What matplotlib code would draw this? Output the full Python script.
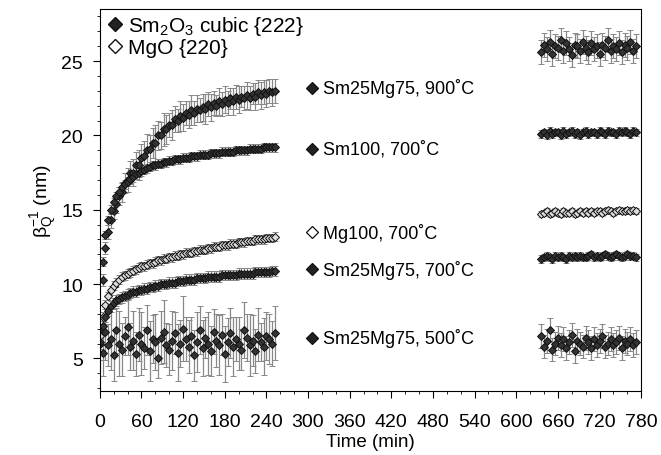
import matplotlib.pyplot as plt
import matplotlib.ticker as ticker
import numpy as np
from matplotlib import font_manager
from matplotlib.lines import Line2D

names = {f.name for f in font_manager.fontManager.ttflist}
narrow = 'Liberation Sans Narrow' if 'Liberation Sans Narrow' in names else 'Liberation Sans'

plt.rcParams['font.family'] = ['Liberation Sans', 'DejaVu Sans']
plt.rcParams['mathtext.fontset'] = 'custom'
plt.rcParams['mathtext.rm'] = 'Liberation Sans'
plt.rcParams['mathtext.it'] = 'Liberation Sans:italic'

# sampling times (min)
t_left = np.arange(0, 253, 4)
t_right = np.arange(636, 773, 4)

# Sm25Mg75, 900 C (Sm2O3 cubic {222})
sm25_900_left = [7.0, 10.3, 12.4, 13.5, 14.3, 14.9, 15.4, 15.9, 16.2, 16.8, 17.0, 17.5, 17.5, 18.0, 18.0, 18.5,
                 18.6, 19.0, 19.1, 19.5, 19.5, 20.0, 20.0, 20.4, 20.4, 20.7, 20.7, 21.1, 21.0, 21.3, 21.2, 21.5,
                 21.4, 21.7, 21.5, 21.8, 21.7, 21.9, 21.8, 22.1, 21.9, 22.2, 22.0, 22.3, 22.1, 22.4, 22.2, 22.5,
                 22.3, 22.6, 22.4, 22.6, 22.5, 22.7, 22.5, 22.8, 22.6, 22.9, 22.7, 22.9, 22.8, 23.0, 22.9, 23.0]
sm25_900_left_err = [0.3, 0.4, 0.4, 0.5, 0.5, 0.5, 0.6, 0.6, 0.7, 0.7, 0.8, 0.8, 0.9, 0.9, 1.0, 0.9,
                     1.0, 1.1, 0.9, 1.0, 1.2, 1.0, 0.9, 1.1, 1.0, 0.8, 1.0, 0.9, 0.8, 1.0, 0.9, 0.8,
                     0.9, 1.0, 0.8, 0.9, 0.8, 0.9, 1.0, 0.8, 0.9, 0.8, 0.7, 0.9, 0.8, 0.9, 0.8, 0.7,
                     0.9, 0.8, 0.9, 0.7, 0.8, 0.9, 0.8, 0.7, 0.9, 0.8, 0.9, 0.8, 0.9, 0.8, 0.9, 0.8]
sm25_900_right = [25.6, 26.1, 25.8, 26.3, 25.5, 26.0, 25.9, 26.4, 25.7, 26.2, 25.8, 25.4, 26.1, 26.0, 25.7, 26.3, 25.9, 25.6,
                  26.2, 25.8, 26.0, 25.5, 26.1, 25.9, 26.4, 25.7, 26.0, 25.8, 26.2, 25.6, 26.1, 25.9, 26.3, 25.7, 26.0]
sm25_900_right_err = 0.8

# Sm100, 700 C
sm100_left = [7.0, 11.5, 13.3, 14.3, 15.0, 15.5, 15.9, 16.2, 16.5, 16.7, 16.9, 17.1, 17.2, 17.4, 17.5, 17.6,
              17.7, 17.8, 17.9, 18.0, 18.0, 18.1, 18.1, 18.2, 18.2, 18.3, 18.3, 18.4, 18.4, 18.4, 18.5, 18.5,
              18.5, 18.6, 18.6, 18.6, 18.7, 18.7, 18.7, 18.7, 18.8, 18.8, 18.8, 18.8, 18.9, 18.9, 18.9, 18.9,
              18.9, 19.0, 19.0, 19.0, 19.0, 19.0, 19.1, 19.1, 19.1, 19.1, 19.1, 19.2, 19.2, 19.2, 19.2, 19.2]
sm100_left_err = 0.3
sm100_right = [20.1, 20.2, 20.0, 20.3, 20.1, 20.2, 20.2, 20.0, 20.3, 20.1, 20.2, 20.3, 20.1, 20.2, 20.0, 20.2, 20.3, 20.1,
               20.2, 20.2, 20.1, 20.3, 20.2, 20.1, 20.3, 20.2, 20.2, 20.1, 20.3, 20.2, 20.3, 20.2, 20.1, 20.3, 20.2]
sm100_right_err = 0.25

# Mg100, 700 C (MgO {220})
mg100_left = [6.5, 7.8, 8.6, 9.2, 9.6, 9.9, 10.1, 10.3, 10.5, 10.6, 10.7, 10.8, 10.9, 11.0, 11.1, 11.2,
              11.2, 11.3, 11.4, 11.4, 11.5, 11.6, 11.6, 11.7, 11.7, 11.8, 11.8, 11.9, 11.9, 12.0, 12.0, 12.1,
              12.1, 12.1, 12.2, 12.2, 12.3, 12.3, 12.3, 12.4, 12.4, 12.5, 12.5, 12.5, 12.6, 12.6, 12.6, 12.7,
              12.7, 12.7, 12.8, 12.8, 12.8, 12.9, 12.9, 12.9, 13.0, 13.0, 13.0, 13.0, 13.1, 13.1, 13.1, 13.2]
mg100_left_err = 0.3
mg100_right = [14.7, 14.8, 14.9, 14.7, 14.8, 14.9, 14.8, 14.7, 14.9, 14.8, 14.8, 14.9, 14.7, 14.8, 14.9, 14.8, 14.9, 14.8,
               14.9, 14.8, 14.9, 14.9, 14.8, 14.9, 15.0, 14.9, 14.8, 14.9, 15.0, 14.9, 14.9, 15.0, 14.9, 15.0, 14.9]
mg100_right_err = 0.2

# Sm25Mg75, 700 C
sm25_700_left = [6.0, 7.2, 7.8, 8.2, 8.5, 8.7, 8.9, 9.0, 9.1, 9.2, 9.3, 9.4, 9.5, 9.5, 9.6, 9.6,
                 9.7, 9.7, 9.8, 9.8, 9.9, 9.9, 10.0, 10.0, 10.0, 10.1, 10.1, 10.1, 10.2, 10.2, 10.2, 10.3,
                 10.3, 10.3, 10.3, 10.4, 10.4, 10.4, 10.4, 10.5, 10.5, 10.5, 10.5, 10.5, 10.6, 10.6, 10.6, 10.6,
                 10.6, 10.6, 10.7, 10.7, 10.7, 10.7, 10.7, 10.7, 10.8, 10.8, 10.8, 10.8, 10.8, 10.8, 10.9, 10.9]
sm25_700_left_err = 0.35
sm25_700_right = [11.7, 11.8, 11.9, 11.8, 11.7, 11.9, 11.8, 11.9, 11.8, 11.7, 11.9, 11.8, 11.9, 11.8, 11.9, 11.8, 11.8, 11.9,
                  12.0, 11.8, 11.9, 11.8, 11.9, 12.0, 11.9, 11.8, 11.9, 12.0, 11.9, 11.8, 11.9, 12.0, 11.9, 11.9, 11.8]
sm25_700_right_err = 0.25

# Sm25Mg75, 500 C
sm25_500_left = [6.1, 5.4, 6.8, 5.9, 6.3, 5.2, 6.9, 6.0, 5.6, 6.5, 7.1, 5.8, 6.2, 5.3, 6.6, 6.0,
                 5.7, 6.9, 5.5, 6.3, 6.1, 5.0, 6.4, 6.8, 5.9, 5.6, 6.2, 6.7, 5.4, 6.0, 7.0, 6.3,
                 5.8, 6.5, 5.2, 6.1, 6.9, 5.7, 6.4, 6.0, 5.5, 6.8, 6.2, 5.9, 6.6, 5.3, 6.1, 6.7,
                 5.8, 6.3, 6.0, 5.6, 6.9, 6.4, 5.9, 6.2, 5.5, 6.6, 6.1, 5.8, 6.5, 6.3, 6.0, 6.7]
sm25_500_left_err = [1.2, 1.6, 1.9, 1.4, 2.1, 1.7, 1.5, 2.2, 1.8, 1.3, 1.9, 1.6, 2.0, 1.5, 1.8, 2.1,
                     1.4, 1.7, 2.0, 1.6, 1.9, 1.3, 1.8, 2.1, 1.5, 1.7, 2.0, 1.4, 1.9, 1.6, 2.2, 1.5,
                     1.8, 1.3, 1.7, 2.0, 1.6, 1.9, 1.4, 2.1, 1.7, 1.5, 1.8, 2.0, 1.4, 1.9, 1.6, 1.7,
                     2.0, 1.5, 1.8, 1.4, 1.9, 1.6, 2.1, 1.7, 1.5, 1.8, 1.3, 1.9, 1.6, 1.7, 1.5, 1.8]
sm25_500_right = [6.5, 5.8, 6.2, 6.9, 5.6, 6.0, 6.4, 5.9, 6.3, 5.7, 6.1, 6.6, 5.5, 6.2, 6.0, 5.8, 6.4, 6.1,
                  5.7, 6.3, 5.9, 6.2, 6.5, 5.8, 6.0, 6.3, 5.9, 6.1, 6.4, 5.7, 6.2, 6.0, 6.3, 5.9, 6.1]
sm25_500_right_err = 0.8

series = [
    (sm25_900_left, sm25_900_left_err, sm25_900_right, sm25_900_right_err, True),
    (sm100_left, sm100_left_err, sm100_right, sm100_right_err, True),
    (mg100_left, mg100_left_err, mg100_right, mg100_right_err, False),
    (sm25_700_left, sm25_700_left_err, sm25_700_right, sm25_700_right_err, True),
    (sm25_500_left, sm25_500_left_err, sm25_500_right, sm25_500_right_err, True),
]

labels = ['Sm25Mg75, 900˚C', 'Sm100, 700˚C', 'Mg100, 700˚C', 'Sm25Mg75, 700˚C', 'Sm25Mg75, 500˚C']
label_y = [23.2, 19.1, 13.5, 11.0, 6.4]
label_filled = [True, True, False, True, True]

fig = plt.figure(figsize=(6.61, 4.56), dpi=100)
ax = fig.add_axes([0.151, 0.140, 0.819, 0.838])

for left, lerr, right, rerr, filled in series:
    for t, v, e in ((t_left, left, lerr), (t_right, right, rerr)):
        ax.errorbar(t, v, yerr=e, fmt='D', ms=3.8,
                    mfc='#333333' if filled else '#dddddd', mec='#111111', mew=0.7,
                    ecolor='#888888', elinewidth=0.9, capsize=2.5, capthick=0.8, zorder=2)

for lab, y, filled in zip(labels, label_y, label_filled):
    ax.plot(306, y, 'D', ms=6.5, mfc='#222222' if filled else 'white', mec='#111111', mew=0.9)
    ax.text(322, y, lab, fontsize=13, va='center', ha='left')

handles = [
    Line2D([], [], ls='none', marker='D', ms=7, mfc='#222222', mec='#111111'),
    Line2D([], [], ls='none', marker='D', ms=7, mfc='white', mec='#111111'),
]
ax.legend(handles, ['Sm$_\\mathregular{2}$O$_\\mathregular{3}$ cubic {222}', 'MgO {220}'],
          loc='upper left', bbox_to_anchor=(-0.015, 1.02), frameon=False, fontsize=15,
          handletextpad=0.15, borderaxespad=0.2, labelspacing=0.05, handlelength=1.0)

ax.set_xlim(0, 780)
ax.set_ylim(2.8, 28.5)
ax.xaxis.set_major_locator(ticker.MultipleLocator(60))
ax.xaxis.set_minor_locator(ticker.MultipleLocator(20))
ax.yaxis.set_major_locator(ticker.MultipleLocator(5))
ax.yaxis.set_minor_locator(ticker.MultipleLocator(1))
ax.tick_params(which='major', direction='out', length=5)
ax.tick_params(which='minor', direction='out', length=2.5)
ax.tick_params(axis='x', which='major', pad=11)
ax.tick_params(axis='y', which='major', pad=7)
for lab in ax.get_xticklabels() + ax.get_yticklabels():
    lab.set_fontfamily(narrow)
    lab.set_fontsize(14)
ax.set_xlabel('Time (min)', fontsize=13.5, family=narrow, labelpad=2)
ax.set_ylabel('β$_\\mathregular{Q}^\\mathregular{-1}$ (nm)', fontsize=14, family=narrow, labelpad=2)

fig.savefig('out.png', dpi=100)
